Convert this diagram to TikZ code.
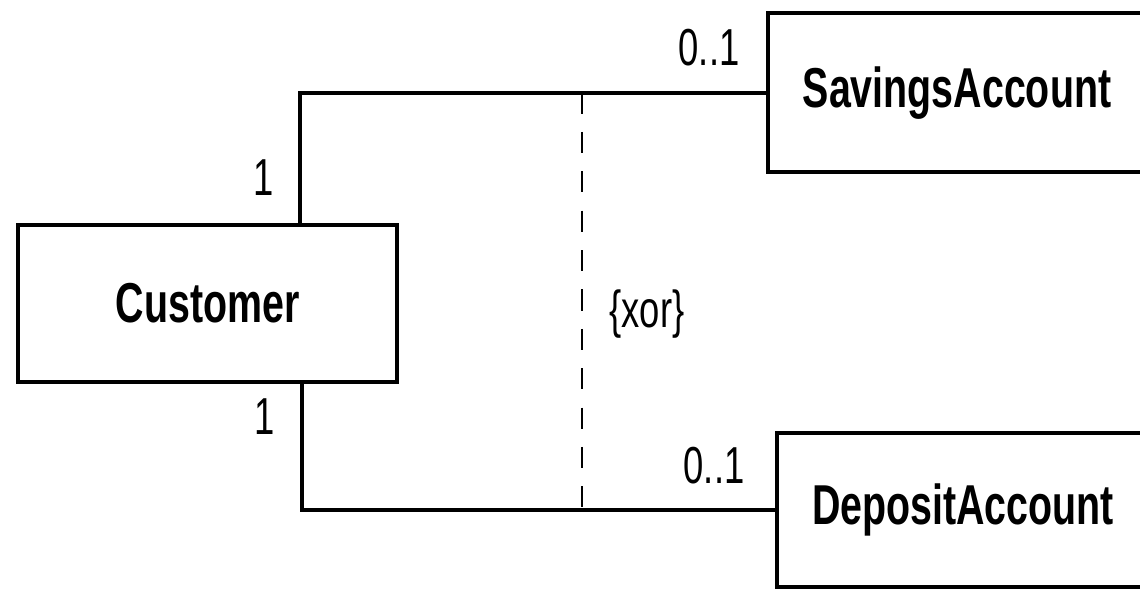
\documentclass[tikz,border=0pt]{standalone}
\usepackage{fontspec}
\setmainfont{Liberation Sans}
\newfontfamily\umlfont[FakeStretch=0.7]{Liberation Sans}
\usetikzlibrary{positioning, calc}
\tikzset{
  cls/.style  ={draw, line width=2.8pt, align=center, inner sep=0pt,
                font=\umlfont\fontsize{40}{44}\selectfont\bfseries, fill=white},
  assoc/.style={line width=2.8pt},
  xorln/.style={line width=2pt, dash pattern=on 15pt off 13pt},
  mult/.style ={font=\umlfont\fontsize{37}{40}\selectfont, inner sep=0pt},
}

\begin{document}
\begin{tikzpicture}
  \useasboundingbox (0,0) rectangle (28.5,14.725);
  \node[cls, minimum width=9.475cm, minimum height=3.925cm] (Customer) at (5.19,7.14) {Customer};
  \node[cls, minimum width=9.45cm, minimum height=3.975cm] (Savings) at (23.925,12.41) {SavingsAccount};
  \node[cls, minimum width=9.3cm, minimum height=3.85cm] (Deposit) at (24.075,1.975) {DepositAccount};
  \coordinate (upx) at (7.5,0);
  \coordinate (lowx) at (7.55,0);
  \draw[assoc] (Customer.north -| upx) |- (Savings.west);
  \draw[assoc] (Customer.south -| lowx) |- (Deposit.west);
  \coordinate (xtop) at (14.55,0);
  \draw[xorln] (Savings.west -| xtop) -- (Deposit.west -| xtop)
    node[mult, pos=0.53, right=0.65cm] (xor) {\{xor\}};
  \node[mult] (m1) at (6.6,10.275) {1};
  \node[mult] (m2) at (6.625,4.3) {1};
  \node[mult] (m3) at (17.725,13.525) {0..1};
  \node[mult] (m4) at (17.85,3.075) {0..1};
\end{tikzpicture}
\end{document}
